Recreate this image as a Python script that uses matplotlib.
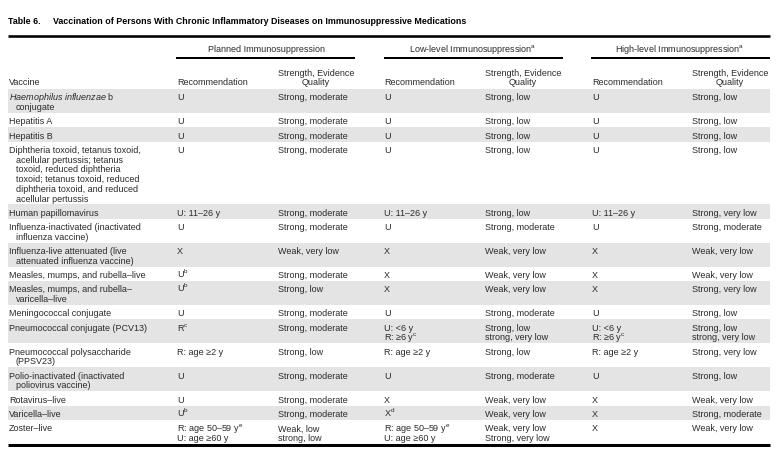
import matplotlib
matplotlib.use("Agg")
import matplotlib.pyplot as plt
from matplotlib.patches import Rectangle
from matplotlib import font_manager

plt.rcParams["font.family"] = ["Liberation Sans", "DejaVu Sans"]
plt.rcParams["mathtext.fontset"] = "custom"
plt.rcParams["mathtext.rm"] = "Liberation Sans"
plt.rcParams["mathtext.it"] = "Liberation Sans:italic"

TITLE_NUM = "Table 6."
TITLE = "Vaccination of Persons With Chronic Inflammatory Diseases on Immunosuppressive Medications"
GROUPS = ["Planned Immunosuppression",
          "Low-level Immunosuppression$^{\\mathrm{a}}$",
          "High-level Immunosuppression$^{\\mathrm{a}}$"]

vaccines = [
    ["$\\mathit{Haemophilus\\ influenzae}$ b", "conjugate"],
    ["Hepatitis A"],
    ["Hepatitis B"],
    ["Diphtheria toxoid, tetanus toxoid,", "acellular pertussis; tetanus",
     "toxoid, reduced diphtheria", "toxoid; tetanus toxoid, reduced",
     "diphtheria toxoid, and reduced", "acellular pertussis"],
    ["Human papillomavirus"],
    ["Influenza-inactivated (inactivated", "influenza vaccine)"],
    ["Influenza-live attenuated (live", "attenuated influenza vaccine)"],
    ["Measles, mumps, and rubella\u2013live"],
    ["Measles, mumps, and rubella\u2013", "varicella\u2013live"],
    ["Meningococcal conjugate"],
    ["Pneumococcal conjugate (PCV13)"],
    ["Pneumococcal polysaccharide", "(PPSV23)"],
    ["Polio-inactivated (inactivated", "poliovirus vaccine)"],
    ["Rotavirus\u2013live"],
    ["Varicella\u2013live"],
    ["Zoster\u2013live"],
]

sup = lambda s: "$^{\\mathrm{%s}}$" % s

planned_rec = [["U"], ["U"], ["U"], ["U"], ["U: 11\u201326 y"], ["U"], ["X"],
               ["U" + sup("b")], ["U" + sup("b")], ["U"], ["R" + sup("c")],
               ["R: age \u22652 y"], ["U"], ["U"], ["U" + sup("b")],
               ["R: age 50\u201359 y" + sup("e"), "U: age \u226560 y"]]
planned_str = [["Strong, moderate"], ["Strong, moderate"], ["Strong, moderate"],
               ["Strong, moderate"], ["Strong, moderate"], ["Strong, moderate"],
               ["Weak, very low"], ["Strong, moderate"], ["Strong, low"],
               ["Strong, moderate"], ["Strong, moderate"], ["Strong, low"],
               ["Strong, moderate"], ["Strong, moderate"], ["Strong, moderate"],
               ["Weak, low", "strong, low"]]
low_rec = [["U"], ["U"], ["U"], ["U"], ["U: 11\u201326 y"], ["U"], ["X"], ["X"],
           ["X"], ["U"], ["U: <6 y", "R: \u22656 y" + sup("c")],
           ["R: age \u22652 y"], ["U"], ["X"], ["X" + sup("d")],
           ["R: age 50\u201359 y" + sup("e"), "U: age \u226560 y"]]
low_str = [["Strong, low"], ["Strong, low"], ["Strong, low"], ["Strong, low"],
           ["Strong, low"], ["Strong, moderate"], ["Weak, very low"],
           ["Weak, very low"], ["Weak, very low"], ["Strong, moderate"],
           ["Strong, low", "strong, very low"], ["Strong, low"],
           ["Strong, moderate"], ["Weak, very low"], ["Weak, very low"],
           ["Weak, very low", "Strong, very low"]]
high_rec = [["U"], ["U"], ["U"], ["U"], ["U: 11\u201326 y"], ["U"], ["X"], ["X"],
            ["X"], ["U"], ["U: <6 y", "R: \u22656 y" + sup("c")],
            ["R: age \u22652 y"], ["U"], ["X"], ["X"], ["X"]]
high_str = [["Strong, low"], ["Strong, low"], ["Strong, low"], ["Strong, low"],
            ["Strong, very low"], ["Strong, moderate"], ["Weak, very low"],
            ["Weak, very low"], ["Strong, very low"], ["Strong, low"],
            ["Strong, low", "strong, very low"], ["Strong, very low"],
            ["Strong, low"], ["Weak, very low"], ["Strong, moderate"],
            ["Weak, very low"]]

# condensed bold face for the title, if one is installed
names = {f.name for f in font_manager.fontManager.ttflist}
narrow = [n for n in ["Liberation Sans Narrow", "DejaVu Sans Condensed"] if n in names]
title_family = narrow[:1] + ["Liberation Sans"]
title_size = 7.4 if narrow else 6.4

W, H = 776, 452
fig = plt.figure(figsize=(W / 100, H / 100), dpi=100)
ax = fig.add_axes([0, 0, 1, 1])
ax.set_xlim(0, W); ax.set_ylim(H, 0); ax.axis("off")

FS = 6.5
TXT = "#2a2a2a"
GRAY = "#e4e4e4"
PX = 0.72   # points per pixel
BL = 3.3    # baseline offset from line centre, px


def put(x, yc, s, ha="left", **kw):
    ax.text(x, yc + BL, s, fontsize=FS, ha=ha, va="baseline", color=TXT, **kw)


# title + rules
ax.text(8, 23.5, TITLE_NUM, fontsize=title_size, fontweight="bold", va="baseline",
        family=title_family)
ax.text(53, 23.5, TITLE, fontsize=title_size, fontweight="bold", va="baseline",
        family=title_family)
ax.plot([8, 770], [36.5, 36.5], color="black", lw=2.6 * PX, solid_capstyle="butt")

rec_x = [177, 384, 592]
str_x = [278, 485, 692]
str_c = [316, 523, 730]
grp_c = [266, 473, 680]
grp_span = [(176, 355), (384, 563), (591, 770)]

for g, c, (a, b) in zip(GROUPS, grp_c, grp_span):
    put(c, 48.5, g, ha="center")
    ax.plot([a, b], [58.5, 58.5], color="black", lw=2 * PX, solid_capstyle="butt")

put(9, 82, "Vaccine")
for rx, sc in zip(rec_x, str_c):
    put(rx, 82, "Recommendation")
    put(sc, 72.5, "Strength, Evidence", ha="center")
    put(sc, 82, "Quality", ha="center")

# body
LH, PAD = 9.7, 4.6
y = 90.0
cols = [(planned_rec, rec_x[0]), (planned_str, str_x[0]),
        (low_rec, rec_x[1]), (low_str, str_x[1]),
        (high_rec, rec_x[2]), (high_str, str_x[2])]
for i, vac in enumerate(vaccines):
    n = max([len(vac)] + [len(c[0][i]) for c in cols])
    rh = PAD + LH * n
    if i % 2 == 0:
        ax.add_patch(Rectangle((8, y), 762, rh, facecolor=GRAY, edgecolor="none", zorder=0))
    for j, line in enumerate(vac):
        put(9 if j == 0 else 16, y + PAD / 2 + LH * (j + 0.5), line)
    for data, cx in cols:
        for j, line in enumerate(data[i]):
            put(cx, y + PAD / 2 + LH * (j + 0.5), line)
    y += rh

ax.plot([8, 770], [y + 1.5, y + 1.5], color="black", lw=3 * PX, solid_capstyle="butt")

fig.savefig("out.png", dpi=100)
